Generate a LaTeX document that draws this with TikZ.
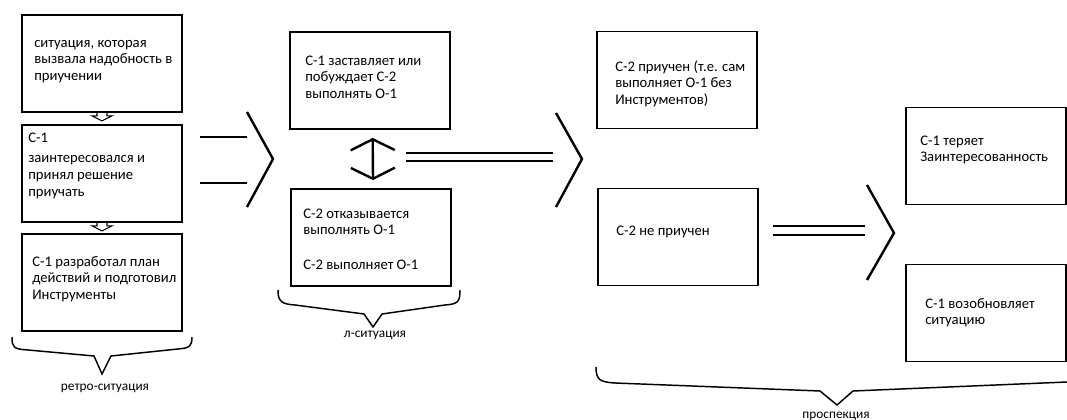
\documentclass[tikz,border=0pt]{standalone}
\usepackage{fontspec}
\setmainfont{Carlito}
\usetikzlibrary{arrows.meta}

\begin{document}
\begin{tikzpicture}[x=0.75pt, y=-0.75pt,
    box/.style={draw, line width=1.1pt, minimum width=120pt, minimum height=73pt, inner sep=0pt},
    txt/.style={anchor=north west, inner sep=0pt, align=left, font=\fontsize{11}{12.6}\selectfont},
    lbl/.style={anchor=base, inner sep=0pt, font=\fontsize{10}{12}\selectfont},
    chev/.style={line width=1.8pt},
    rail/.style={line width=1.2pt},
    brace/.style={line width=1.1pt}]
    \useasboundingbox (0,0) rectangle (1067,420);

    % retro-situation column
    \node[box] (b1) at (102,63.5) {};
    \node[box] (b2) at (102,173.5) {};
    \node[box] (b3) at (102,282.5) {};
    \node[txt] (t1) at (34,35) {\strut ситуация, которая\\вызвала надобность в\\приучении};
    \node[txt] (t2) at (28,130) {\strut С-1\\[3pt]заинтересовался и\\принял решение\\приучать};
    \node[txt] (t3) at (32,254) {\strut С-1 разработал план\\действий и подготовил\\Инструменты};

    % hollow arrows between the boxes
    \draw[line width=0.8pt] (b1.south) ++(-5,0) -- ++(0,3) -- ++(-5,0) -- ++(10,5) -- ++(10,-5) -- ++(-5,0) -- ++(0,-3);
    \draw[line width=0.8pt] (b2.south) ++(-5,0) -- ++(0,3) -- ++(-5,0) -- ++(10,5) -- ++(10,-5) -- ++(-5,0) -- ++(0,-3);

    \draw[brace] (12,337) .. controls (12,348) and (14,349) .. (28,350) -- (94,356) -- (102,374) -- (111,356)
        -- (178,349) .. controls (190,348) and (192,346) .. (192,337);
    \node[lbl] (l1) at (105,390) {ретро-ситуация};

    % first transition
    \coordinate (c1) at (273,159);
    \draw[rail] (200,137) -- (247,137);
    \draw[rail] (200,183) -- (247,183);
    \draw[chev] (247,112) -- (c1) -- (247,207);

    % l-situation column
    \node[box] (m1) at (370,80.5) {};
    \node[box] (m2) at (371,237.5) {};
    \node[txt] (t4) at (305,53) {\strut С-1 заставляет или\\побуждает С-2\\выполнять О-1};
    \node[txt] (t5) at (303,206) {\strut С-2 отказывается\\выполнять О-1\\[13.6pt]С-2 выполняет О-1};
    \draw[chev, {Straight Barb[length=8.2pt,width=33pt]}-{Straight Barb[length=8.2pt,width=33pt]}]
        ([xshift=2pt,yshift=-6pt]m1.south) -- ([xshift=1.5pt,yshift=6pt]m2.north);

    \draw[brace] (278,290) .. controls (278,302) and (282,304) .. (295,305) -- (364,314) -- (373,327) -- (382,314)
        -- (445,305) .. controls (458,304) and (460,302) .. (460,290);
    \node[lbl] (l2) at (375,337) {л-ситуация};

    % second transition
    \coordinate (c2) at (582,159);
    \draw[rail] (406,153) -- (553,153);
    \draw[rail] (406,161) -- (553,161);
    \draw[chev] (556,113) -- (c2) -- (556,207);

    % prospection
    \node[box] (r1) at (677,80) {};
    \node[box] (r2) at (678,237) {};
    \node[txt] (t6) at (615,59) {\strut С-2 приучен (т.е. сам\\выполняет О-1 без\\Инструментов)};
    \node[txt] (t7) at (616,223) {\strut С-2 не приучен};

    \coordinate (c3) at (894,233);
    \draw[rail] (773,226) -- (865,226);
    \draw[rail] (773,235) -- (865,235);
    \draw[chev] (867,185) -- (c3) -- (867,280);

    \node[box] (f1) at (986,156) {};
    \node[box] (f2) at (986,313) {};
    \node[txt] (t8) at (920,133) {\strut С-1 теряет\\Заинтересованность};
    \node[txt] (t9) at (925,296) {\strut С-1 возобновляет\\ситуацию};

    \draw[brace] (596,367) .. controls (596,380) and (600,382) .. (615,383) -- (820,391) -- (837,405) -- (853,391)
        -- (1067,382);
    \node[lbl] (l3) at (836,418) {проспекция};
\end{tikzpicture}
\end{document}
